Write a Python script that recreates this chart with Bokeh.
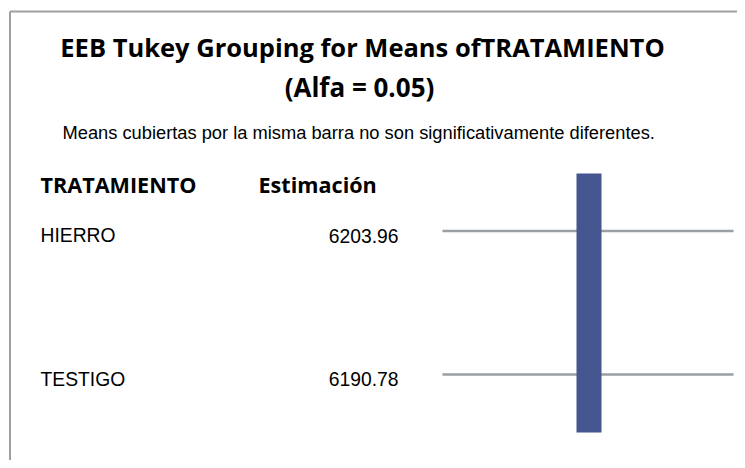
from bokeh.plotting import figure
from bokeh.models import Range1d, ColumnDataSource
from bokeh.core.properties import value
from bokeh.embed import file_html
from bokeh.resources import INLINE

# ---- data ----
title_lines = ["EEB Tukey Grouping for Means ofTRATAMIENTO", "(Alfa = 0.05)"]
subtitle = "Means cubiertas por la misma barra no son significativamente diferentes."
col_headers = ["TRATAMIENTO", "Estimación"]
tratamientos = ["HIERRO", "TESTIGO"]
estimaciones = [6203.96, 6190.78]
grupos = ["A", "A"]

# ---- layout (screen-like coordinates) ----
W, H = 737, 460
p = figure(width=W, height=H, output_backend="svg", toolbar_location=None,
           x_range=Range1d(0, W), y_range=Range1d(H, 0),
           min_border=0, outline_line_color=None)
p.axis.visible = False
p.grid.visible = False
p.background_fill_color = "white"
p.border_fill_color = "white"

# frame border (left and top)
p.segment(x0=[9.5, 9.5], y0=[11, 11], x1=[9.5, W + 5], y1=[H + 5, 11],
          line_color="#a0a0a0", line_width=2)

bold_font = value("Open Sans")
reg_font = value("Liberation Sans")

p.text(x=[362], y=[46], text=[title_lines[0]], text_font=bold_font, text_font_style="bold",
       text_font_size=value("25.5px"), text_align="center", text_baseline="middle", text_color="black")
p.text(x=[359], y=[86], text=[title_lines[1]], text_font=bold_font, text_font_style="bold",
       text_font_size=value("26px"), text_align="center", text_baseline="middle", text_color="black")

p.text(x=[62], y=[132], text=[subtitle], text_font=reg_font,
       text_font_size=value("18.3px"), text_align="left", text_baseline="middle", text_color="black")

p.text(x=[40, 258], y=[184, 184], text=col_headers, text_font=bold_font, text_font_style="bold",
       text_font_size=value("21.6px"), text_align="left", text_baseline="middle", text_color="black")

row_top, row_gap = 230.5, 143.5
ys = [row_top + i * row_gap for i in range(len(tratamientos))]
src = ColumnDataSource(dict(
    y=ys, ty=[y + 4.5 for y in ys], name=tratamientos,
    est=[f"{v:.2f}" for v in estimaciones],
))
p.text(x=40, y="ty", text="name", source=src, text_font=reg_font,
       text_font_size=value("19.3px"), text_align="left", text_baseline="middle", text_color="black")
p.text(x=398, y="ty", text="est", source=src, text_font=reg_font,
       text_font_size=value("19.3px"), text_align="right", text_baseline="middle", text_color="black")
p.segment(x0=442, x1=733, y0="y", y1="y", source=src, line_color="#999fa2", line_width=2.5)

# grouping bars
for g in sorted(set(grupos)):
    idx = [i for i, gg in enumerate(grupos) if gg == g]
    top = ys[idx[0]] - 57.5
    bot = ys[idx[-1]] + 58
    p.quad(left=[576], right=[601], top=[top], bottom=[bot],
           fill_color="#44558f", line_color=None)

open("out.html", "w").write(file_html(p, INLINE))
